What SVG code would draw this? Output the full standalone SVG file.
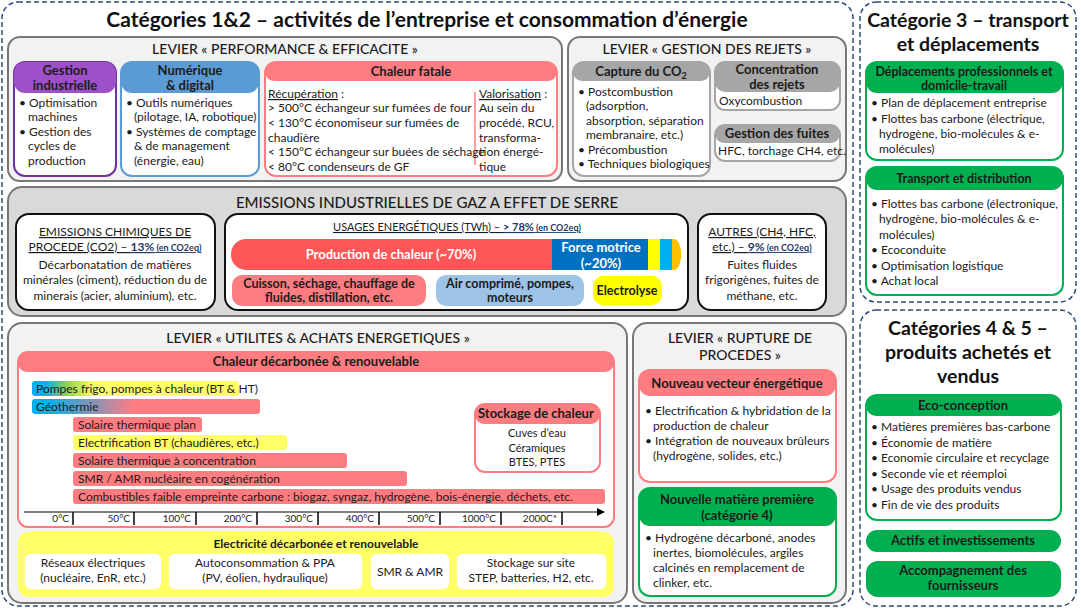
<svg xmlns="http://www.w3.org/2000/svg" width="1081" height="609" viewBox="0 0 1081 609">
<defs>
<linearGradient id="gPompes" x1="0" x2="1" y1="0" y2="0"><stop offset="0" stop-color="#00B0F0"/><stop offset="0.06" stop-color="#00B0F0"/><stop offset="0.17" stop-color="#92D050"/><stop offset="0.3" stop-color="#FFFF66"/><stop offset="1" stop-color="#FFFF66"/></linearGradient>
<linearGradient id="gGeo" x1="0" x2="1" y1="0" y2="0"><stop offset="0" stop-color="#00B0F0"/><stop offset="0.06" stop-color="#00B0F0"/><stop offset="0.45" stop-color="#FF7C80"/><stop offset="1" stop-color="#FF7C80"/></linearGradient>
<marker id="arr" markerWidth="8" markerHeight="8" refX="7" refY="4" orient="auto" markerUnits="userSpaceOnUse"><path d="M0,0 L8,4 L0,8 z" fill="#000"/></marker>
</defs>
<style>
text{font-family:Lato,"Liberation Sans",sans-serif;fill:#1b1b1b}
.cat{stroke:#2F4B7C;stroke-width:1.5;stroke-dasharray:5 3;fill:#fff}
.lev{fill:#F2F2F2;stroke:#777;stroke-width:2}
.em{fill:#D9D9D9;stroke:#777;stroke-width:2}
.h1{font-size:21px;font-weight:bold;text-anchor:middle;fill:#111}
.h2{font-size:14px;text-anchor:middle;font-weight:500}
.hb{font-size:13px;font-weight:bold;text-anchor:middle}
.b{font-size:12px}
.s{font-size:11px}
.m{text-anchor:middle}
.u{text-decoration:underline}
.blue{fill:#1F3864;font-weight:bold}
.wb{fill:#fff;font-weight:bold;font-size:13px;text-anchor:middle}
.box{fill:#fff;stroke-width:2}
.blk{fill:#fff;stroke:#111;stroke-width:2}
.bar{fill:#FF7C80}
.ax{font-size:10px;text-anchor:end}
.tick{stroke:#000;stroke-width:1.5}
</style>
<rect width="1081" height="609" fill="#fff"/>

<!-- category frames -->
<g id="cat12">
<rect class="cat" x="2" y="2" width="851" height="604" rx="16"/>
<text class="h1" x="427" y="27">Catégories 1&amp;2 – activités de l’entreprise et consommation d’énergie</text>
</g>
<g id="cat3">
<rect class="cat" x="860" y="2" width="216" height="300" rx="16"/>
<text class="h1" x="968" y="27" style="font-size:19.5px">Catégorie 3 – transport</text>
<text class="h1" x="968" y="51" style="font-size:19.5px">et déplacements</text>
</g>
<g id="cat45">
<rect class="cat" x="860" y="310" width="216" height="296" rx="16"/>
<text class="h1" x="968" y="335" style="font-size:19.5px">Catégories 4 &amp; 5 –</text>
<text class="h1" x="968" y="359" style="font-size:19.5px">produits achetés et</text>
<text class="h1" x="968" y="383" style="font-size:19.5px">vendus</text>
</g>

<!-- Levier performance -->
<g id="levier-perf">
<rect class="lev" x="8" y="37" width="554" height="144" rx="12"/>
<text class="h2" x="285" y="54">LEVIER  « PERFORMANCE &amp; EFFICACITE »</text>
</g>
<g id="gestion-industrielle">
<rect class="box" x="14" y="62" width="102" height="114" rx="11" stroke="#7030A0"/>
<rect x="14" y="62" width="102" height="31" rx="11" fill="#9E50C9"/>
<text class="hb" x="65" y="75">Gestion</text>
<text class="hb" x="65" y="90">industrielle</text>
<text class="b" x="19" y="107">• Optimisation</text>
<text class="b" x="28" y="121">machines</text>
<text class="b" x="19" y="136">• Gestion des</text>
<text class="b" x="28" y="150">cycles de</text>
<text class="b" x="28" y="165">production</text>
</g>
<g id="numerique">
<rect class="box" x="121" y="62" width="138" height="114" rx="11" stroke="#5B9BD5"/>
<rect x="121" y="62" width="138" height="31" rx="11" fill="#5B9BD5"/>
<text class="hb" x="190" y="75">Numérique</text>
<text class="hb" x="190" y="90">&amp; digital</text>
<text class="b" x="126" y="107">• Outils numériques</text>
<text class="b" x="134" y="121">(pilotage, IA, robotique)</text>
<text class="b" x="126" y="136">• Systèmes de comptage</text>
<text class="b" x="134" y="150">&amp; de management</text>
<text class="b" x="134" y="165">(énergie, eau)</text>
</g>
<g id="chaleur-fatale">
<rect class="box" x="265" y="62" width="292" height="114" rx="11" stroke="#FF7C80"/>
<rect x="265" y="62" width="292" height="19" rx="9" fill="#FF7C80"/>
<text class="hb" x="411" y="76">Chaleur fatale</text>
<line x1="475" y1="92" x2="475" y2="165" stroke="#FF7C80" stroke-width="1.5"/>
<text class="b" x="268" y="98"><tspan class="u">Récupération</tspan> :</text>
<text class="b" x="268" y="112">&gt; 500°C échangeur sur fumées de four</text>
<text class="b" x="268" y="127">&lt; 130°C économiseur sur fumées de</text>
<text class="b" x="268" y="142">chaudière</text>
<text class="b" x="268" y="156">&lt; 150°C échangeur sur buées de séchage</text>
<text class="b" x="268" y="171">&lt; 80°C condenseurs de GF</text>
<text class="b" x="479" y="98"><tspan class="u">Valorisation</tspan> :</text>
<text class="b" x="479" y="112">Au sein du</text>
<text class="b" x="479" y="127">procédé, RCU,</text>
<text class="b" x="479" y="142">transforma-</text>
<text class="b" x="479" y="156">tion énergé-</text>
<text class="b" x="479" y="171">tique</text>
</g>

<!-- Levier rejets -->
<g id="levier-rejets">
<rect class="lev" x="568" y="37" width="278" height="144" rx="12"/>
<text class="h2" x="707" y="54">LEVIER « GESTION DES REJETS »</text>
</g>
<g id="capture-co2">
<rect class="box" x="573" y="62" width="137" height="114" rx="11" stroke="#A6A6A6"/>
<rect x="573" y="62" width="137" height="19" rx="9" fill="#A6A6A6"/>
<text class="hb" x="641" y="76">Capture du CO<tspan style="font-size:9px" dy="3">2</tspan></text>
<text class="b" x="578" y="96">• Postcombustion</text>
<text class="b" x="586" y="110">(adsorption,</text>
<text class="b" x="586" y="125">absorption, séparation</text>
<text class="b" x="586" y="139">membranaire, etc.)</text>
<text class="b" x="578" y="154">• Précombustion</text>
<text class="b" x="578" y="168">• Techniques biologiques</text>
</g>
<g id="concentration">
<rect class="box" x="715" y="62" width="125" height="48" rx="10" stroke="#A6A6A6"/>
<rect x="715" y="62" width="125" height="30" rx="10" fill="#A6A6A6"/>
<text class="hb" x="777" y="74">Concentration</text>
<text class="hb" x="777" y="89">des rejets</text>
<text class="b" x="719" y="105">Oxycombustion</text>
</g>
<g id="fuites">
<rect class="box" x="715" y="125" width="125" height="36" rx="10" stroke="#A6A6A6"/>
<rect x="715" y="125" width="125" height="18" rx="9" fill="#A6A6A6"/>
<text class="hb" x="777" y="138">Gestion des fuites</text>
<text class="b" x="718" y="155">HFC, torchage CH4, etc.</text>
</g>

<!-- Emissions -->
<g id="emissions">
<rect class="em" x="8" y="187" width="838" height="129" rx="14"/>
<text class="h2" x="427" y="208" style="font-size:15px">EMISSIONS INDUSTRIELLES DE GAZ A EFFET DE SERRE</text>
</g>
<g id="emissions-chimiques">
<rect class="blk" x="16" y="214" width="199" height="96" rx="13"/>
<text class="b m u" x="115" y="236">EMISSIONS CHIMIQUES DE</text>
<text class="b m" x="115" y="251"><tspan class="u">PROCEDE (CO2) – </tspan><tspan class="blue u">13%</tspan><tspan class="blue u" style="font-size:9px"> (en CO2eq)</tspan></text>
<text class="b m" x="115" y="269">Décarbonatation de matières</text>
<text class="b m" x="115" y="284">minérales (ciment), réduction du de</text>
<text class="b m" x="115" y="300">minerais (acier, aluminium), etc.</text>
</g>
<g id="usages">
<rect class="blk" x="225" y="214" width="463" height="96" rx="13"/>
<text class="s m" x="457" y="231"><tspan class="u">USAGES ENERGÉTIQUES  (TWh) – </tspan><tspan class="blue u">&gt; 78%</tspan><tspan class="blue u" style="font-size:9px"> (en CO2eq)</tspan></text>
<path d="M246,239 H552 V270 H246 A15,15 0 0 1 231,255 A15,15 0 0 1 246,239 z" fill="#FF5757"/>
<rect x="552" y="239" width="96" height="31" fill="#0070C0"/>
<rect x="648" y="239" width="12" height="31" fill="#FFFF00"/>
<rect x="660" y="239" width="12" height="31" fill="#00B0F0"/>
<path d="M672,239 H674 A7,15 0 0 1 674,270 H672 z" fill="#FFC000"/>
<text class="wb" x="391" y="259">Production de chaleur (~70%)</text>
<text class="wb" x="601" y="252">Force motrice</text>
<text class="wb" x="601" y="268">(~20%)</text>
<rect x="232" y="275" width="194" height="31" rx="10" fill="#FF7C80"/>
<text class="hb" x="329" y="288" style="font-size:12.5px">Cuisson, séchage, chauffage de</text>
<text class="hb" x="329" y="302" style="font-size:12.5px">fluides, distillation,  etc.</text>
<rect x="436" y="275" width="148" height="31" rx="10" fill="#9DC3E6"/>
<text class="hb" x="510" y="288" style="font-size:12.5px">Air comprimé, pompes,</text>
<text class="hb" x="510" y="302" style="font-size:12.5px">moteurs</text>
<rect x="593" y="276" width="69" height="29" rx="10" fill="#FFFF00"/>
<text class="hb" x="627" y="295" style="font-size:12.5px">Electrolyse</text>
</g>
<g id="autres">
<rect class="blk" x="698" y="214" width="128" height="96" rx="13"/>
<text class="b m u" x="762" y="236">AUTRES (CH4, HFC,</text>
<text class="b m" x="762" y="251"><tspan class="u">etc.) – </tspan><tspan class="blue u">9%</tspan><tspan class="blue u" style="font-size:9px"> (en CO2eq)</tspan></text>
<text class="b m" x="762" y="269">Fuites fluides</text>
<text class="b m" x="762" y="284">frigorigènes, fuites de</text>
<text class="b m" x="762" y="300">méthane, etc.</text>
</g>

<!-- Levier utilites -->
<g id="levier-utilites">
<rect class="lev" x="8" y="323" width="619" height="280" rx="14"/>
<text class="h2" x="318" y="343">LEVIER « UTILITES &amp; ACHATS ENERGETIQUES »</text>
</g>
<g id="chaleur-decarbonee">
<rect class="box" x="18" y="352" width="596" height="175" rx="10" stroke="#FF7C80"/>
<rect x="18" y="352" width="596" height="20" rx="9" fill="#FF7C80"/>
<text class="hb" x="316" y="366">Chaleur décarbonée &amp; renouvelable</text>
<rect x="32" y="381" width="207" height="15" rx="3" fill="url(#gPompes)"/>
<text class="b" x="36" y="393">Pompes frigo, pompes à chaleur (BT &amp; HT)</text>
<rect x="32" y="399" width="228" height="15" rx="3" fill="url(#gGeo)"/>
<text class="b" x="36" y="411">Géothermie</text>
<rect class="bar" x="73" y="417" width="129" height="15" rx="3"/>
<text class="b" x="78" y="429">Solaire thermique plan</text>
<rect x="73" y="435" width="214" height="15" rx="3" fill="#FFFF66"/>
<text class="b" x="78" y="447">Electrification BT (chaudières, etc.)</text>
<rect class="bar" x="73" y="453" width="274" height="15" rx="3"/>
<text class="b" x="78" y="465">Solaire thermique à concentration</text>
<rect class="bar" x="73" y="471" width="334" height="15" rx="3"/>
<text class="b" x="78" y="483">SMR / AMR nucléaire en cogénération</text>
<rect class="bar" x="73" y="489" width="532" height="15" rx="3"/>
<text class="b" x="78" y="501">Combustibles faible empreinte carbone : biogaz, syngaz, hydrogène, bois-énergie, déchets, etc.</text>
<line x1="24" y1="512" x2="604" y2="512" stroke="#000" stroke-width="1.2" marker-end="url(#arr)"/>
<g>
<line class="tick" x1="73" y1="512" x2="73" y2="525"/>
<line class="tick" x1="134" y1="512" x2="134" y2="525"/>
<line class="tick" x1="196" y1="512" x2="196" y2="525"/>
<line class="tick" x1="257" y1="512" x2="257" y2="525"/>
<line class="tick" x1="318" y1="512" x2="318" y2="525"/>
<line class="tick" x1="379" y1="512" x2="379" y2="525"/>
<line class="tick" x1="440" y1="512" x2="440" y2="525"/>
<line class="tick" x1="501" y1="512" x2="501" y2="525"/>
<line class="tick" x1="562" y1="512" x2="562" y2="525"/>
</g>
<text class="ax" x="69" y="522">0°C</text>
<text class="ax" x="130" y="522">50°C</text>
<text class="ax" x="191" y="522">100°C</text>
<text class="ax" x="252" y="522">200°C</text>
<text class="ax" x="313" y="522">300°C</text>
<text class="ax" x="374" y="522">400°C</text>
<text class="ax" x="435" y="522">500°C</text>
<text class="ax" x="496" y="522">1000°C</text>
<text class="ax" x="557" y="522">2000C*</text>
</g>
<g id="stockage-chaleur">
<rect class="box" x="475" y="404" width="125" height="68" rx="10" stroke="#FF7C80"/>
<rect x="475" y="404" width="125" height="20" rx="9" fill="#FF7C80"/>
<text class="hb" x="478" y="418" style="text-anchor:start">Stockage de chaleur</text>
<text class="s m" x="537" y="437">Cuves d’eau</text>
<text class="s m" x="537" y="452">Céramiques</text>
<text class="s m" x="537" y="466">BTES, PTES</text>
</g>
<g id="electricite">
<rect x="18" y="532" width="596" height="65" rx="10" fill="#FFFF66"/>
<text class="hb" x="316" y="548" style="font-size:12px">Electricité décarbonée et renouvelable</text>
<rect x="24" y="553" width="138" height="37" rx="7" fill="#fff" stroke="#FFFF66" stroke-width="1.5"/>
<text class="b m" x="93" y="567">Réseaux électriques</text>
<text class="b m" x="93" y="582">(nucléaire, EnR, etc.)</text>
<rect x="168" y="553" width="195" height="37" rx="7" fill="#fff" stroke="#FFFF66" stroke-width="1.5"/>
<text class="b m" x="265" y="567">Autoconsommation &amp; PPA</text>
<text class="b m" x="265" y="582">(PV, éolien, hydraulique)</text>
<rect x="370" y="553" width="80" height="37" rx="7" fill="#fff" stroke="#FFFF66" stroke-width="1.5"/>
<text class="b m" x="410" y="576">SMR &amp; AMR</text>
<rect x="456" y="553" width="151" height="37" rx="7" fill="#fff" stroke="#FFFF66" stroke-width="1.5"/>
<text class="b m" x="531" y="567">Stockage sur site</text>
<text class="b m" x="531" y="582">STEP, batteries, H2, etc.</text>
</g>

<!-- Levier rupture -->
<g id="levier-rupture">
<rect class="lev" x="633" y="323" width="213" height="280" rx="14"/>
<text class="h2" x="740" y="343">LEVIER « RUPTURE DE</text>
<text class="h2" x="740" y="360">PROCEDES »</text>
</g>
<g id="nouveau-vecteur">
<rect class="box" x="639" y="370" width="197" height="112" rx="11" stroke="#FF7C80"/>
<rect x="639" y="370" width="197" height="26" rx="11" fill="#FF7C80"/>
<text class="hb" x="737" y="388">Nouveau vecteur énergétique</text>
<text class="b" x="645" y="415">• Electrification &amp; hybridation de la</text>
<text class="b" x="653" y="430">production de chaleur</text>
<text class="b" x="645" y="445">• Intégration de nouveaux brûleurs</text>
<text class="b" x="653" y="460">(hydrogène, solides, etc.)</text>
</g>
<g id="nouvelle-matiere">
<rect class="box" x="639" y="488" width="197" height="108" rx="11" stroke="#00B050"/>
<rect x="639" y="488" width="197" height="38" rx="11" fill="#00B050"/>
<text class="hb" x="737" y="504">Nouvelle matière première</text>
<text class="hb" x="737" y="520">(catégorie 4)</text>
<text class="b" x="645" y="542">• Hydrogène décarboné, anodes</text>
<text class="b" x="653" y="557">inertes, biomolécules, argiles</text>
<text class="b" x="653" y="572">calcinés en remplacement de</text>
<text class="b" x="653" y="587">clinker, etc.</text>
</g>

<!-- Categorie 3 nodes -->
<g id="deplacements">
<rect class="box" x="866" y="62" width="197" height="98" rx="11" stroke="#00B050"/>
<rect x="866" y="62" width="197" height="31" rx="11" fill="#00B050"/>
<text class="hb" x="964" y="76" style="font-size:12.5px">Déplacements professionnels et</text>
<text class="hb" x="964" y="90" style="font-size:12.5px">domicile-travail</text>
<text class="b" x="871" y="107">• Plan de déplacement entreprise</text>
<text class="b" x="871" y="123">• Flottes bas carbone (électrique,</text>
<text class="b" x="879" y="138">hydrogène, bio-molécules &amp; e-</text>
<text class="b" x="879" y="153">molécules)</text>
</g>
<g id="transport">
<rect class="box" x="866" y="167" width="197" height="128" rx="11" stroke="#00B050"/>
<rect x="866" y="167" width="197" height="23" rx="11" fill="#00B050"/>
<text class="hb" x="964" y="183" style="font-size:12.5px">Transport  et distribution</text>
<text class="b" x="871" y="208">• Flottes bas carbone (électronique,</text>
<text class="b" x="879" y="223">hydrogène,  bio-molécules &amp; e-</text>
<text class="b" x="879" y="239">molécules)</text>
<text class="b" x="871" y="254">• Ecoconduite</text>
<text class="b" x="871" y="270">• Optimisation logistique</text>
<text class="b" x="871" y="285">• Achat local</text>
</g>

<!-- Categories 4&5 nodes -->
<g id="eco-conception">
<rect class="box" x="866" y="395" width="195" height="125" rx="11" stroke="#00B050"/>
<rect x="866" y="395" width="195" height="21" rx="10" fill="#00B050"/>
<text class="hb" x="963" y="410">Eco-conception</text>
<text class="b" x="871" y="431">• Matières premières bas-carbone</text>
<text class="b" x="871" y="447">• Économie de matière</text>
<text class="b" x="871" y="462">• Economie circulaire et recyclage</text>
<text class="b" x="871" y="478">• Seconde vie et réemploi</text>
<text class="b" x="871" y="493">• Usage des produits vendus</text>
<text class="b" x="871" y="509">• Fin de vie des produits</text>
</g>
<g id="actifs">
<rect x="866" y="530" width="195" height="22" rx="11" fill="#00B050"/>
<text class="hb" x="963" y="545">Actifs et investissements</text>
</g>
<g id="accompagnement">
<rect x="866" y="561" width="195" height="36" rx="12" fill="#00B050"/>
<text class="hb" x="963" y="575">Accompagnement des</text>
<text class="hb" x="963" y="590">fournisseurs</text>
</g>
<g id="connectors"></g>
</svg>
